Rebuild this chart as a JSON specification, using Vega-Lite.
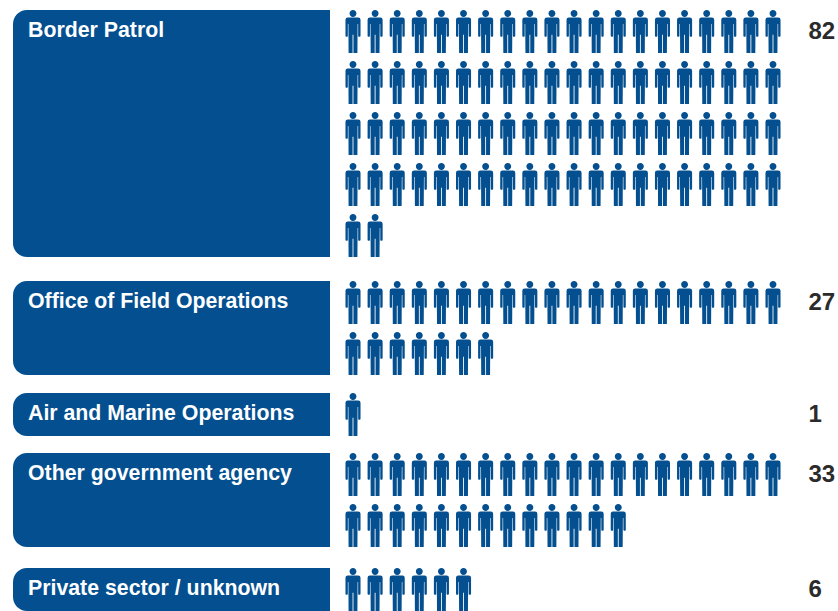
{"$schema":"https://vega.github.io/schema/vega-lite/v6.json","autosize":{"type":"fit","contains":"padding"},"width":838,"height":611,"padding":0,"background":"white","view":{"stroke":null},"datasets":{"groups":[{"group":"Border Patrol","count":82,"firstLine":0,"lastLine":4},{"group":"Office of Field Operations","count":27,"firstLine":5,"lastLine":6},{"group":"Air and Marine Operations","count":1,"firstLine":7,"lastLine":7},{"group":"Other government agency","count":33,"firstLine":8,"lastLine":9},{"group":"Private sector / unknown","count":6,"firstLine":10,"lastLine":10}],"people":[{"group":"Border Patrol","col":1,"line":0},{"group":"Border Patrol","col":2,"line":0},{"group":"Border Patrol","col":3,"line":0},{"group":"Border Patrol","col":4,"line":0},{"group":"Border Patrol","col":5,"line":0},{"group":"Border Patrol","col":6,"line":0},{"group":"Border Patrol","col":7,"line":0},{"group":"Border Patrol","col":8,"line":0},{"group":"Border Patrol","col":9,"line":0},{"group":"Border Patrol","col":10,"line":0},{"group":"Border Patrol","col":11,"line":0},{"group":"Border Patrol","col":12,"line":0},{"group":"Border Patrol","col":13,"line":0},{"group":"Border Patrol","col":14,"line":0},{"group":"Border Patrol","col":15,"line":0},{"group":"Border Patrol","col":16,"line":0},{"group":"Border Patrol","col":17,"line":0},{"group":"Border Patrol","col":18,"line":0},{"group":"Border Patrol","col":19,"line":0},{"group":"Border Patrol","col":20,"line":0},{"group":"Border Patrol","col":1,"line":1},{"group":"Border Patrol","col":2,"line":1},{"group":"Border Patrol","col":3,"line":1},{"group":"Border Patrol","col":4,"line":1},{"group":"Border Patrol","col":5,"line":1},{"group":"Border Patrol","col":6,"line":1},{"group":"Border Patrol","col":7,"line":1},{"group":"Border Patrol","col":8,"line":1},{"group":"Border Patrol","col":9,"line":1},{"group":"Border Patrol","col":10,"line":1},{"group":"Border Patrol","col":11,"line":1},{"group":"Border Patrol","col":12,"line":1},{"group":"Border Patrol","col":13,"line":1},{"group":"Border Patrol","col":14,"line":1},{"group":"Border Patrol","col":15,"line":1},{"group":"Border Patrol","col":16,"line":1},{"group":"Border Patrol","col":17,"line":1},{"group":"Border Patrol","col":18,"line":1},{"group":"Border Patrol","col":19,"line":1},{"group":"Border Patrol","col":20,"line":1},{"group":"Border Patrol","col":1,"line":2},{"group":"Border Patrol","col":2,"line":2},{"group":"Border Patrol","col":3,"line":2},{"group":"Border Patrol","col":4,"line":2},{"group":"Border Patrol","col":5,"line":2},{"group":"Border Patrol","col":6,"line":2},{"group":"Border Patrol","col":7,"line":2},{"group":"Border Patrol","col":8,"line":2},{"group":"Border Patrol","col":9,"line":2},{"group":"Border Patrol","col":10,"line":2},{"group":"Border Patrol","col":11,"line":2},{"group":"Border Patrol","col":12,"line":2},{"group":"Border Patrol","col":13,"line":2},{"group":"Border Patrol","col":14,"line":2},{"group":"Border Patrol","col":15,"line":2},{"group":"Border Patrol","col":16,"line":2},{"group":"Border Patrol","col":17,"line":2},{"group":"Border Patrol","col":18,"line":2},{"group":"Border Patrol","col":19,"line":2},{"group":"Border Patrol","col":20,"line":2},{"group":"Border Patrol","col":1,"line":3},{"group":"Border Patrol","col":2,"line":3},{"group":"Border Patrol","col":3,"line":3},{"group":"Border Patrol","col":4,"line":3},{"group":"Border Patrol","col":5,"line":3},{"group":"Border Patrol","col":6,"line":3},{"group":"Border Patrol","col":7,"line":3},{"group":"Border Patrol","col":8,"line":3},{"group":"Border Patrol","col":9,"line":3},{"group":"Border Patrol","col":10,"line":3},{"group":"Border Patrol","col":11,"line":3},{"group":"Border Patrol","col":12,"line":3},{"group":"Border Patrol","col":13,"line":3},{"group":"Border Patrol","col":14,"line":3},{"group":"Border Patrol","col":15,"line":3},{"group":"Border Patrol","col":16,"line":3},{"group":"Border Patrol","col":17,"line":3},{"group":"Border Patrol","col":18,"line":3},{"group":"Border Patrol","col":19,"line":3},{"group":"Border Patrol","col":20,"line":3},{"group":"Border Patrol","col":1,"line":4},{"group":"Border Patrol","col":2,"line":4},{"group":"Office of Field Operations","col":1,"line":5},{"group":"Office of Field Operations","col":2,"line":5},{"group":"Office of Field Operations","col":3,"line":5},{"group":"Office of Field Operations","col":4,"line":5},{"group":"Office of Field Operations","col":5,"line":5},{"group":"Office of Field Operations","col":6,"line":5},{"group":"Office of Field Operations","col":7,"line":5},{"group":"Office of Field Operations","col":8,"line":5},{"group":"Office of Field Operations","col":9,"line":5},{"group":"Office of Field Operations","col":10,"line":5},{"group":"Office of Field Operations","col":11,"line":5},{"group":"Office of Field Operations","col":12,"line":5},{"group":"Office of Field Operations","col":13,"line":5},{"group":"Office of Field Operations","col":14,"line":5},{"group":"Office of Field Operations","col":15,"line":5},{"group":"Office of Field Operations","col":16,"line":5},{"group":"Office of Field Operations","col":17,"line":5},{"group":"Office of Field Operations","col":18,"line":5},{"group":"Office of Field Operations","col":19,"line":5},{"group":"Office of Field Operations","col":20,"line":5},{"group":"Office of Field Operations","col":1,"line":6},{"group":"Office of Field Operations","col":2,"line":6},{"group":"Office of Field Operations","col":3,"line":6},{"group":"Office of Field Operations","col":4,"line":6},{"group":"Office of Field Operations","col":5,"line":6},{"group":"Office of Field Operations","col":6,"line":6},{"group":"Office of Field Operations","col":7,"line":6},{"group":"Air and Marine Operations","col":1,"line":7},{"group":"Other government agency","col":1,"line":8},{"group":"Other government agency","col":2,"line":8},{"group":"Other government agency","col":3,"line":8},{"group":"Other government agency","col":4,"line":8},{"group":"Other government agency","col":5,"line":8},{"group":"Other government agency","col":6,"line":8},{"group":"Other government agency","col":7,"line":8},{"group":"Other government agency","col":8,"line":8},{"group":"Other government agency","col":9,"line":8},{"group":"Other government agency","col":10,"line":8},{"group":"Other government agency","col":11,"line":8},{"group":"Other government agency","col":12,"line":8},{"group":"Other government agency","col":13,"line":8},{"group":"Other government agency","col":14,"line":8},{"group":"Other government agency","col":15,"line":8},{"group":"Other government agency","col":16,"line":8},{"group":"Other government agency","col":17,"line":8},{"group":"Other government agency","col":18,"line":8},{"group":"Other government agency","col":19,"line":8},{"group":"Other government agency","col":20,"line":8},{"group":"Other government agency","col":1,"line":9},{"group":"Other government agency","col":2,"line":9},{"group":"Other government agency","col":3,"line":9},{"group":"Other government agency","col":4,"line":9},{"group":"Other government agency","col":5,"line":9},{"group":"Other government agency","col":6,"line":9},{"group":"Other government agency","col":7,"line":9},{"group":"Other government agency","col":8,"line":9},{"group":"Other government agency","col":9,"line":9},{"group":"Other government agency","col":10,"line":9},{"group":"Other government agency","col":11,"line":9},{"group":"Other government agency","col":12,"line":9},{"group":"Other government agency","col":13,"line":9},{"group":"Private sector / unknown","col":1,"line":10},{"group":"Private sector / unknown","col":2,"line":10},{"group":"Private sector / unknown","col":3,"line":10},{"group":"Private sector / unknown","col":4,"line":10},{"group":"Private sector / unknown","col":5,"line":10},{"group":"Private sector / unknown","col":6,"line":10}]},"layer":[{"data":{"name":"groups"},"mark":{"type":"rect","color":"#034f8f","cornerRadiusTopLeft":14,"cornerRadiusBottomLeft":14,"yOffset":-21.5,"y2Offset":21.5},"encoding":{"x":{"datum":-2,"type":"quantitative","axis":null,"scale":{"domain":[-2,-1,0,1,20,21],"range":[13,28,330,353,773,808.5],"nice":false,"zero":false}},"x2":{"datum":0},"y":{"field":"firstLine","type":"quantitative","axis":null,"scale":{"domain":[0,1,2,3,4,5,6,7,8,9,10],"range":[31.5,82.5,133.5,184.5,235.5,302.5,353.5,414.5,474.5,525.5,589.5],"nice":false,"zero":false}},"y2":{"field":"lastLine"}}},{"data":{"name":"groups"},"mark":{"type":"text","align":"left","baseline":"middle","dy":-0.5,"font":"Liberation Sans","fontWeight":"bold","fontSize":21.3,"color":"white"},"encoding":{"x":{"datum":-1,"type":"quantitative","axis":null},"y":{"field":"firstLine","type":"quantitative","axis":null},"text":{"field":"group"}}},{"data":{"name":"groups"},"mark":{"type":"text","align":"left","baseline":"middle","dy":0,"font":"Liberation Sans","fontWeight":"bold","fontSize":24,"color":"#2b2b2b"},"encoding":{"x":{"datum":21,"type":"quantitative","axis":null},"y":{"field":"firstLine","type":"quantitative","axis":null},"text":{"field":"count"}}},{"data":{"name":"people"},"mark":{"type":"point","filled":true,"opacity":1,"color":"#034f8f","size":1849,"shape":"M-0.16,-0.84a0.16,0.16 0 1,0 0.32,0a0.16,0.16 0 1,0 -0.32,0zM-0.24,-0.65L0.24,-0.65Q0.35,-0.65 0.35,-0.55L0.35,0.2Q0.35,0.24 0.31,0.24L0.27,0.24Q0.24,0.24 0.24,0.2L0.24,-0.35L0.215,-0.35L0.205,1L0.02,1L0.02,0.15L-0.02,0.15L-0.02,1L-0.205,1L-0.215,-0.35L-0.24,-0.35L-0.24,0.2Q-0.24,0.24 -0.27,0.24L-0.31,0.24Q-0.35,0.24 -0.35,0.2L-0.35,-0.55Q-0.35,-0.65 -0.24,-0.65Z"},"encoding":{"x":{"field":"col","type":"quantitative","axis":null},"y":{"field":"line","type":"quantitative","axis":null}}}]}
